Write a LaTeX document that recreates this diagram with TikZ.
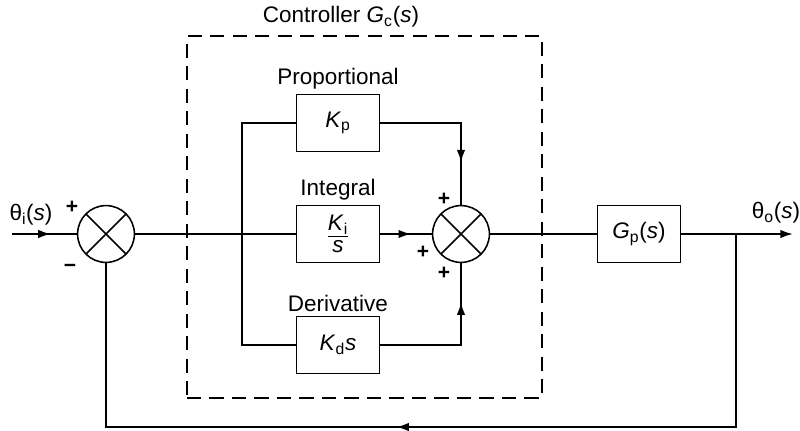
\documentclass[tikz,border=0pt]{standalone}
\usepackage{fontspec}
\setmainfont{Liberation Sans}
\usepackage{tikz}
\usetikzlibrary{arrows.meta,positioning,calc,decorations.markings}
\newcommand{\vsym}[1]{\textit{#1}}
\newcommand{\lowsub}[1]{\textsubscript{#1}}
\tikzset{
  blk/.style   ={draw,line width=1.1pt,minimum width=2.075cm,minimum height=1.425cm,
                 inner sep=2pt,align=center},
  sumjn/.style ={draw,circle,line width=1.1pt,minimum size=1.42cm,inner sep=0pt,
                 path picture={\draw[line width=1.1pt]
                   (path picture bounding box.north west) -- (path picture bounding box.south east)
                   (path picture bounding box.north east) -- (path picture bounding box.south west);}},
  zone/.style  ={draw,dash pattern=on 10pt off 6pt,line width=1pt,inner sep=0pt,
                 minimum width=8.875cm,minimum height=9.05cm},
  sig/.style   ={line width=1.3pt},
  lbl/.style   ={inner sep=1pt},
  pm/.style    ={inner sep=0pt,font=\fontsize{15}{15}\bfseries},
  midtip/.style={postaction={decorate},decoration={markings,
                 mark=at position #1 with {\arrow{Latex[length=9pt,width=6pt]}}}},
  flow/.style  ={sig,-{Latex[length=9pt,width=6pt]}}
}

\begin{document}
\begin{tikzpicture}[x=0.025cm,y=-0.025cm,font=\fontsize{16}{18}\selectfont]
  \useasboundingbox (0,0) rectangle (800,431);
  \node[zone] (ctrl) at (364.5,217) {};
  \node[lbl] (lctrl) at (341,17) {Controller \vsym{G}\lowsub{c}(\vsym{s})};
  \node[sumjn] (s1) at (106,234) {};
  \node[sumjn] (s2) at (461,234) {};
  \node[blk] (kp) at (338,123) {\vsym{K}\lowsub{p}};
  \node[blk] (ki) at (338,234) {\underline{\vsym{K}\lowsub{i}}\\[-2pt]\vsym{s}};
  \node[blk] (kd) at (338,345) {\vsym{K}\lowsub{d}\vsym{s}};
  \node[blk] (gp) at (639,234) {\vsym{G}\lowsub{p}(\vsym{s})};
  \node[lbl,above=2pt of kp] (lprop) {Proportional};
  \node[lbl,above=2pt of ki] (lint) {Integral};
  \node[lbl,above=2pt of kd] (lder) {Derivative};
  \node[lbl] (lin) at (31,215) {θ\lowsub{i}(\vsym{s})};
  \node[lbl] (lout) at (776,213) {θ\lowsub{o}(\vsym{s})};
  \node[pm] (p1) at (72,207) {+};
  \node[pm] (m1) at (70,268) {−};
  \node[pm] (p2) at (444,199) {+};
  \node[pm] (p3) at (423,252) {+};
  \node[pm] (p4) at (444,273) {+};
  \coordinate (in) at (12,234);
  \coordinate (br) at (242,234);
  \coordinate (tap) at (736,234);
  \coordinate (out) at (793,234);
  \coordinate (fb) at (736,427);
  \draw[sig,midtip=0.6] (in) -- (s1);
  \draw[sig] (s1) -- (ki);
  \draw[sig] (br) |- (kp);
  \draw[sig] (br) |- (kd);
  \draw[sig,midtip=0.6] (ki) -- (s2);
  \draw[sig,midtip=0.74] (kp) -| (s2);
  \draw[sig,midtip=0.76] (kd) -| (s2);
  \draw[sig] (s2) -- (gp);
  \draw[flow] (gp) -- (out);
  \draw[sig,midtip=0.54] (tap) -- (fb) -| (s1);
\end{tikzpicture}
\end{document}
